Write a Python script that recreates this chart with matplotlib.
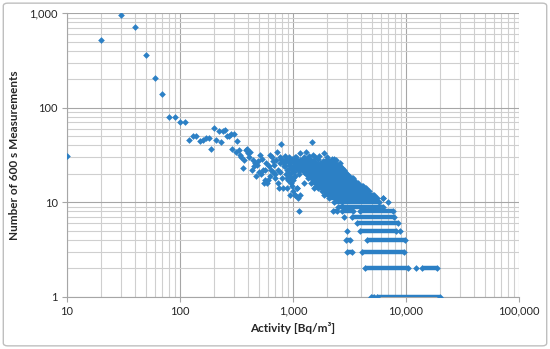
import matplotlib
matplotlib.use("Agg")
import matplotlib.pyplot as plt
from matplotlib.ticker import FuncFormatter, LogLocator, NullFormatter
from matplotlib.patches import FancyBboxPatch

plt.rcParams["font.family"] = ["Lato", "DejaVu Sans"]

# ---------------------------------------------------------
#  Data (activity in Bq/m3, number of 600 s measurements)
# ---------------------------------------------------------
# sparse part of the distribution, single points
low_act = [10, 20, 30, 40, 50, 60, 70, 80, 90, 100, 110, 120, 130, 140, 150,
           160, 170, 180, 190, 200, 210, 220, 230, 240, 250, 260, 270, 280,
           290, 300, 310, 320, 330, 340, 350, 360, 370, 380, 390, 400, 410,
           420, 430, 440, 450, 460, 470, 480, 490, 500, 510, 520, 530, 540,
           550, 560, 570, 580, 590, 600, 610, 620, 630, 640, 650, 660, 670,
           680, 690, 700, 710, 720, 730, 740, 750, 760, 770, 780, 790, 800,
           820, 830, 850, 860, 870, 890, 900, 910, 930, 940, 950, 970, 980,
           1000, 1020, 1040, 1060, 1080, 1100, 1130, 1150]
low_cnt = [31, 520, 950, 720, 360, 205, 140, 80, 79, 70, 70, 46, 50, 50, 44,
           46, 48, 48, 37, 61, 46, 57, 43, 57, 58, 50, 50, 53,
           37, 53, 34, 44, 36, 32, 30, 23, 28, 36, 37, 33, 30,
           34, 22, 28, 24, 26, 19, 25, 27, 21, 32, 20, 29, 22,
           16, 17, 22, 26, 16, 17, 24, 32, 19, 22, 30, 27, 21,
           25, 18, 20, 28, 34, 16, 22, 14, 26, 21, 29, 41, 18,
           14, 24, 31, 20, 27, 14, 22, 17, 25, 12, 19, 28, 21,
           17, 24, 12, 30, 14, 11, 8, 12]

# denser scattered points around 700 - 7000 Bq/m3
mid_act = [760, 800, 835, 855, 875, 905, 925, 945, 965, 985, 1005, 1025,
           885, 915, 935, 955, 975, 995, 1015, 1035, 1055, 1075, 1095, 1115,
           1135, 885, 1005, 1045, 1095, 965, 1010, 1035, 1065, 1460, 1500,
           1560, 2100, 3400, 4200, 5200, 6300, 7000, 6200, 3000, 8800, 12200,
           1250, 1320, 1380, 1200, 1270, 2850, 1650, 1700, 2300, 2450, 1550,
           1250, 2700, 1150, 1300, 1700, 1900, 2000, 2200, 2400, 2600]
mid_cnt = [30, 28, 26, 24, 29, 27, 30, 25, 27, 29, 28, 26,
           22, 20, 18, 16, 15, 18, 21, 19, 23, 25, 27, 22,
           20, 18, 13, 12, 14, 23, 23, 30, 28, 43, 32,
           30, 27, 18, 15, 12, 11, 10, 11, 5, 5, 2,
           30, 29, 31, 26, 24, 7, 29, 18, 29, 12, 14,
           16, 10, 33, 34, 31, 33, 30, 29, 28, 26]

# runs of neighbouring bins with the same count (count, from, to)
run_cnt = [28, 28, 27, 27, 27, 26, 26, 26, 26, 25, 25, 25, 24, 24, 24, 24,
           23, 23, 23, 22, 22, 22, 21, 21, 21, 20, 20, 20, 19, 19, 19,
           18, 18, 18, 17, 17, 16, 16, 16, 15, 15, 14, 14, 13, 13,
           12, 11, 10, 9, 8, 8, 8, 7, 6, 5, 4, 4, 3, 3, 2, 2, 1, 1]
run_lo = [1150, 1380, 1100, 1350, 1850, 1100, 1300, 1750, 2000, 1150, 1500,
          1800, 1100, 1450, 1750, 2200, 1200, 1600, 2100, 1150, 1450, 2000,
          1250, 1800, 2500, 1300, 1700, 2300, 1400, 1900, 2700, 1350, 1600,
          2500, 1500, 2200, 1450, 1700, 2900, 1600, 2400, 1650, 3000, 1800,
          3500, 1900, 2100, 2300, 2500, 2250, 2700, 3900, 3300, 3700, 3900,
          2950, 4500, 3000, 4050, 4300, 13800, 4900, 5500]
run_hi = [1300, 1450, 1250, 1550, 2200, 1200, 1600, 1900, 2350, 1400, 1700,
          2500, 1300, 1650, 2100, 2600, 1500, 2000, 2700, 1350, 1900, 2800,
          1700, 2400, 2900, 1600, 2200, 3000, 1800, 2600, 3100, 1500, 2400,
          3300, 2100, 3500, 1600, 2800, 3800, 2300, 4100, 2900, 4400, 3400,
          4700, 5100, 5500, 5800, 6300, 2450, 3400, 7600, 7800, 8500, 8200,
          3200, 9800, 3300, 9600, 10500, 18700, 5200, 20000]

# ---------------------------------------------------------
#  Style
# ---------------------------------------------------------
MARK = "#2C80C5"
MAJOR = "#A6A6A6"
MINOR = "#CFCFCF"
TEXT = "#262626"

fig = plt.figure(figsize=(5.5, 3.49), dpi=100)
fig.patch.set_facecolor("white")
ax = fig.add_axes([0.1218, 0.1499, 0.8218, 0.8120])

# outer chart frame
frame = FancyBboxPatch((0.006, 0.009), 0.988, 0.982,
                       boxstyle="round,pad=0,rounding_size=0.008",
                       transform=fig.transFigure, facecolor="none",
                       edgecolor="#BFBFBF", lw=1.0)
fig.patches.append(frame)

ax.set_xscale("log")
ax.set_yscale("log")
ax.set_xlim(10, 100000)
ax.set_ylim(1, 1000)

# points
mk = dict(marker="D", ms=3.4, mew=0, color=MARK, ls="none", zorder=3)
ax.plot(low_act, low_cnt, **mk)
ax.plot(mid_act, mid_cnt, **mk)
ax.hlines(run_cnt, run_lo, run_hi, colors=MARK, lw=3.2, zorder=3)
ax.plot(run_lo, run_cnt, **mk)
ax.plot(run_hi, run_cnt, **mk)

# grid
ax.xaxis.set_major_locator(LogLocator(base=10, numticks=10))
ax.yaxis.set_major_locator(LogLocator(base=10, numticks=10))
ax.xaxis.set_minor_locator(LogLocator(base=10, subs=range(2, 10), numticks=20))
ax.yaxis.set_minor_locator(LogLocator(base=10, subs=range(2, 10), numticks=20))
ax.grid(which="major", color=MAJOR, lw=0.8, zorder=0)
ax.grid(which="minor", color=MINOR, lw=0.8, zorder=0)
ax.set_axisbelow(True)

fmt = FuncFormatter(lambda v, p: f"{v:,.0f}")
ax.xaxis.set_major_formatter(fmt)
ax.yaxis.set_major_formatter(fmt)
ax.xaxis.set_minor_formatter(NullFormatter())
ax.yaxis.set_minor_formatter(NullFormatter())

ax.tick_params(which="major", length=3.5, width=0.8, color=MAJOR,
               labelsize=8, labelcolor=TEXT, pad=3)
ax.tick_params(which="minor", length=0)

for side in ["top", "right"]:
    ax.spines[side].set_visible(False)
for side in ["left", "bottom"]:
    ax.spines[side].set_color(MAJOR)
    ax.spines[side].set_linewidth(0.8)

ax.set_xlabel("Activity [Bq/m³]", fontsize=8.5, fontweight="bold",
              color=TEXT, labelpad=4)
ax.set_ylabel("Number of 600 s Measurements", fontsize=8.5,
              fontweight="bold", color=TEXT, labelpad=7)

fig.savefig("out.png", dpi=100, facecolor="white")
